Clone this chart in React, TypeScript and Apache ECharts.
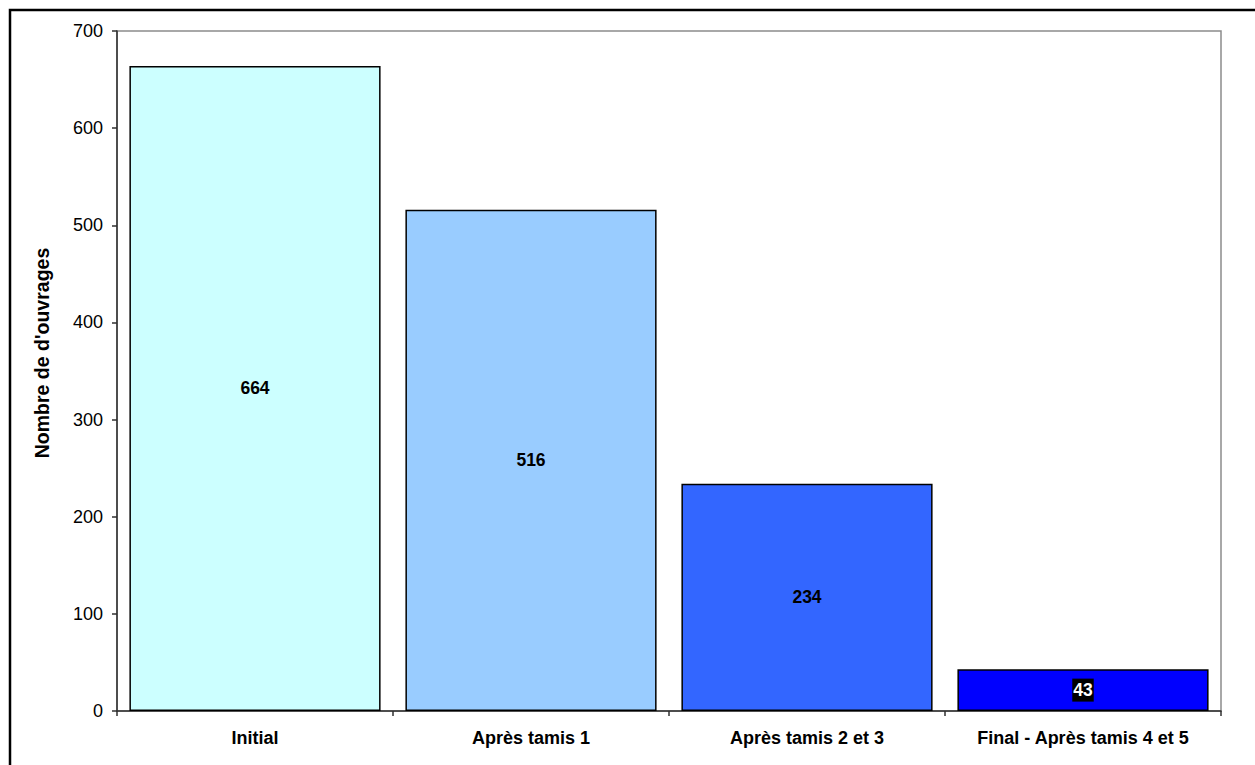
import React, { useEffect, useRef } from "react";
import * as echarts from "echarts";

const categories = ["Initial", "Après tamis 1", "Après tamis 2 et 3", "Final - Après tamis 4 et 5"];
const values = [664, 516, 234, 43];
const barColors = ["#CCFFFF", "#99CCFF", "#3366FF", "#0000FF"];
const yAxisTitle = "Nombre de d'ouvrages";

export default function App() {
  const ref = useRef<HTMLDivElement>(null);
  useEffect(() => {
    if (!ref.current) return;
    const chart = echarts.init(ref.current, null, { renderer: "svg" });
    const font = "'Liberation Sans', Arial, sans-serif";
    chart.setOption({
      animation: false,
      backgroundColor: "#ffffff",
      grid: {
        left: 117,
        right: 34,
        top: 31,
        bottom: 54,
        show: true,
        borderColor: "#8c8c8c",
        borderWidth: 1.5,
        backgroundColor: "transparent",
      },
      xAxis: {
        type: "category",
        data: categories,
        axisLine: { show: true, lineStyle: { color: "#303030", width: 1.5 } },
        axisTick: { show: true, length: 5, lineStyle: { color: "#303030", width: 1.5 } },
        axisLabel: { color: "#000", fontFamily: font, fontSize: 18, fontWeight: "bold", margin: 18 },
      },
      yAxis: {
        type: "value",
        min: 0,
        max: 700,
        interval: 100,
        splitLine: { show: false },
        axisLine: { show: true, lineStyle: { color: "#303030", width: 1.5 } },
        axisTick: { show: true, length: 5, lineStyle: { color: "#303030", width: 1.5 } },
        axisLabel: { color: "#000", fontFamily: font, fontSize: 18, margin: 14 },
      },
      graphic: [
        {
          type: "rect",
          shape: { x: 10, y: 10, width: 1300, height: 800 },
          style: { fill: "none", stroke: "#000", lineWidth: 2.5 },
          silent: true,
        },
        {
          type: "text",
          x: 42,
          y: 353,
          rotation: Math.PI / 2,
          style: {
            text: yAxisTitle,
            fill: "#000",
            font: `bold 19.5px ${font}`,
            textAlign: "center",
            textVerticalAlign: "middle",
          },
        },
      ],
      series: [
        {
          type: "bar",
          barCategoryGap: "9%",
          data: values.map((v, i) => ({
            value: v,
            itemStyle: { color: barColors[i], borderColor: "#000", borderWidth: 1.5 },
            label:
              i === values.length - 1
                ? { color: "#fff", backgroundColor: "#000", padding: [3, 1, 2, 1] }
                : {},
          })),
          label: {
            show: true,
            position: "inside",
            color: "#000",
            fontFamily: font,
            fontSize: 17.5,
            fontWeight: "bold",
          },
        },
      ],
    });
    return () => chart.dispose();
  }, []);
  return (
    <div
      ref={ref}
      style={{ position: "absolute", left: 0, top: 0, width: 1255, height: 765 }}
    />
  );
}
